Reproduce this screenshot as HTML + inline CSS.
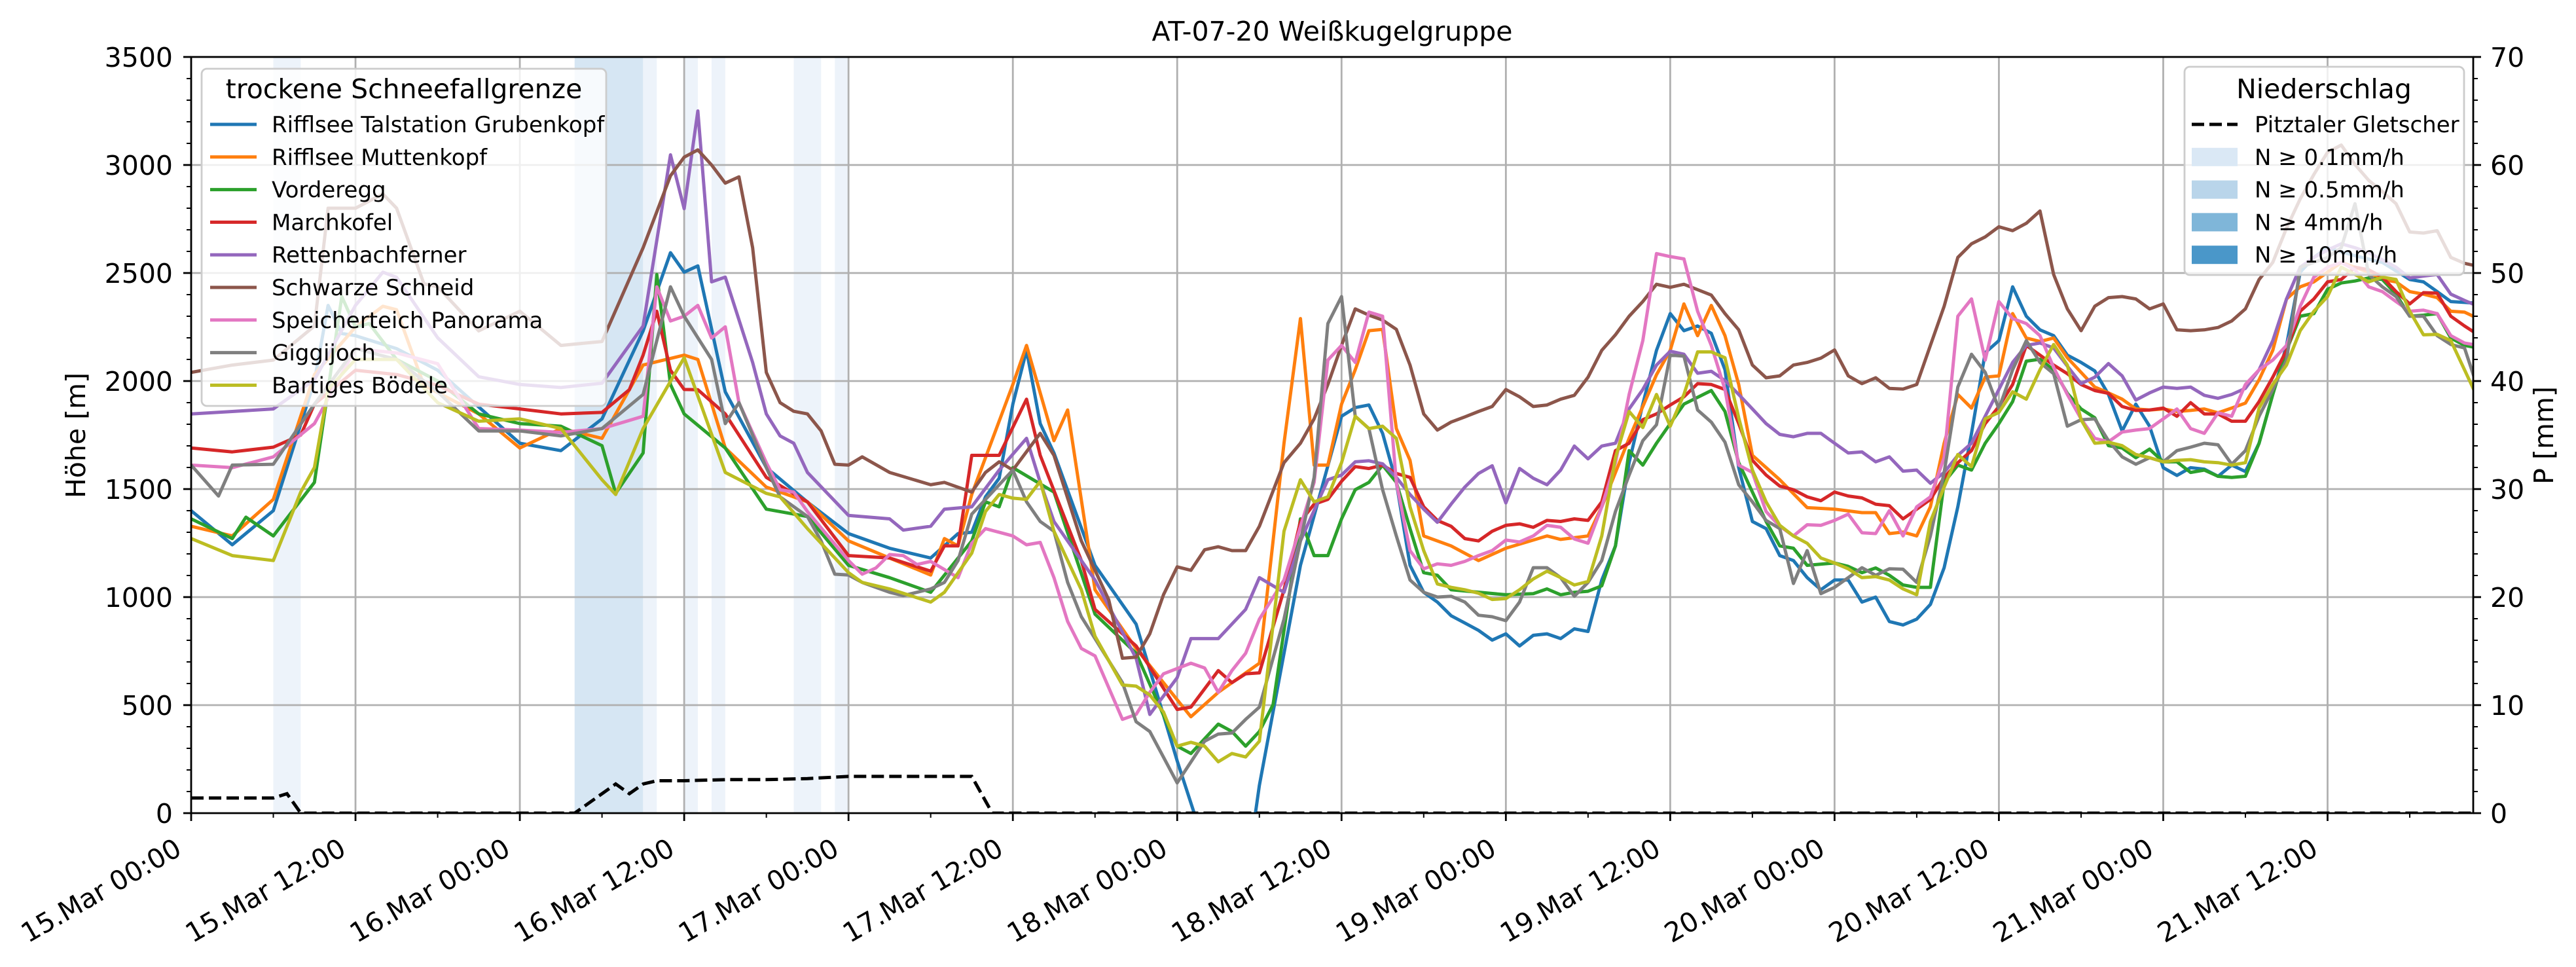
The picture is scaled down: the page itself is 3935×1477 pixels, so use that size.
<!DOCTYPE html>
<html><head><meta charset="utf-8"><style>
html,body{margin:0;padding:0;background:#fff;}
svg{display:block;font-family:"DejaVu Sans","Liberation Sans",sans-serif;}
</style></head>
<body>
<svg id="chart" xmlns="http://www.w3.org/2000/svg" width="3935" height="1477" viewBox="0 0 3935 1477">
<defs><clipPath id="plotclip"><rect x="292" y="87" width="3486" height="1155"/></clipPath></defs>
<rect x="0" y="0" width="3935" height="1477" fill="#fff"/>
<g id="bands"></g><g id="grid"></g>
<g id="lines" clip-path="url(#plotclip)"></g>
<g id="axes"></g>
<text x="2035" y="62" font-size="41" text-anchor="middle">AT-07-20 Weißkugelgruppe</text>
<text x="0" y="0" font-size="41" text-anchor="middle" transform="translate(130,665) rotate(-90)">Höhe [m]</text>
<text x="0" y="0" font-size="41" text-anchor="middle" transform="translate(3900,665) rotate(-90)">P [mm]</text>
<g id="legends"></g>
</svg>
<script>
const xTickLabels = ["15.Mar 00:00","15.Mar 12:00","16.Mar 00:00","16.Mar 12:00","17.Mar 00:00","17.Mar 12:00","18.Mar 00:00","18.Mar 12:00","19.Mar 00:00","19.Mar 12:00","20.Mar 00:00","20.Mar 12:00","21.Mar 00:00","21.Mar 12:00"];
const yTicks = [0,500,1000,1500,2000,2500,3000,3500];
const y2Ticks = [0,10,20,30,40,50,60,70];
const seriesNames = ["Rifflsee Talstation Grubenkopf","Rifflsee Muttenkopf","Vorderegg","Marchkofel","Rettenbachferner","Schwarze Schneid","Speicherteich Panorama","Giggijoch","Bartiges Bödele"];
const seriesColors = ["#1f77b4","#ff7f0e","#2ca02c","#d62728","#9467bd","#8c564b","#e377c2","#7f7f7f","#bcbd22"];
const precipBands = [[6,8,0.1],[28,33,0.5],[33,34,0.1],[36,37,0.1],[38,39,0.1],[44,46,0.1],[47,48,0.1]];
const precipPitztal = [[0,1.4],[6,1.4],[7,1.8],[8,0],[28,0],[30,1.8],[31,2.7],[32,1.8],[33,2.7],[34,3.0],[36,3.0],[39,3.1],[42,3.1],[45,3.2],[48,3.4],[56,3.4],[57,3.4],[58.5,0],[168,0]];
const sRifflseeTal = [[0,1400],[3,1242],[6,1400],[9,2000],[10,2350],[11,2220],[12,2210],[15,2150],[18,2050],[21,1880],[24,1712],[27,1678],[30,1825],[33,2232],[35,2594],[36,2504],[37,2533],[39,1950],[42,1600],[45,1440],[48,1294],[51,1226],[54,1181],[56,1294],[57,1300],[58,1464],[59,1550],[60,1893],[61,2142],[62,1803],[63,1667],[66,1147],[69,875],[72,242],[73.5,-50],[77.6,-50],[78,129],[81,1147],[84,1837],[85,1877],[86,1889],[87,1758],[88,1531],[89,1147],[90,1022],[91,977],[92,914],[93,880],[94,846],[95,801],[96,830],[97,774],[98,823],[99,830],[100,808],[101,853],[102,841],[103,1079],[104,1237],[105,1622],[106,1893],[107,2142],[108,2312],[109,2233],[110,2255],[111,2221],[112,2052],[113,1599],[114,1350],[115,1317],[116,1192],[117,1169],[118,1090],[119,1034],[120,1079],[121,1079],[122,977],[123,1000],[124,887],[125,871],[126,898],[127,966],[128,1136],[129,1418],[130,1758],[131,2131],[132,2187],[133,2436],[134,2300],[135,2237],[136,2210],[137,2120],[138,2086],[139,2047],[140,1938],[141,1769],[142,1893],[143,1791],[144,1599],[145,1563],[146,1599],[147,1592],[148,1559],[149,1611],[150,1581],[151,1712],[152,1938],[153,2165],[154,2504],[155,2572],[156,2617],[158,2580],[160,2549],[162,2470],[163,2459],[164,2414],[165,2368],[166,2364],[167,2360]];
const sMuttenkopf = [[0,1328],[3,1283],[6,1452],[9,2030],[12,2250],[14,2346],[15,2330],[17,1980],[21,1848],[24,1690],[27,1780],[30,1735],[33,2074],[36,2120],[37,2100],[39,1690],[42,1509],[45,1441],[48,1260],[51,1181],[54,1102],[55,1271],[56,1237],[57,1475],[60,1984],[61,2165],[63,1724],[64,1866],[66,1034],[69,762],[72,525],[73,446],[75,559],[78,694],[79.8,1712],[81,2289],[82,1611],[83,1611],[84,1893],[85,2052],[86,2233],[87,2239],[88,1780],[89,1633],[90,1283],[92,1237],[94,1169],[96,1226],[99,1283],[100,1267],[102,1283],[103,1418],[105,1735],[107,2029],[108,2142],[109,2357],[110,2210],[111,2350],[112,2210],[113,1984],[114,1656],[116,1543],[118,1414],[120,1407],[122,1391],[123,1391],[124,1294],[125,1301],[126,1283],[127,1418],[128,1712],[129,1938],[130,1875],[131,2018],[132,2024],[133,2312],[134,2199],[135,2183],[136,2199],[137,2108],[138,2040],[139,1972],[140,1945],[141,1916],[142,1871],[143,1866],[144,1871],[145,1859],[146,1864],[147,1871],[148,1853],[149,1875],[150,1898],[151,2006],[152,2142],[153,2380],[154,2436],[155,2459],[156,2504],[157,2549],[158,2527],[159,2504],[160,2470],[161,2459],[162,2414],[163,2402],[164,2386],[165,2323],[166,2319],[167,2289]];
const sVorderegg = [[0,1362],[3,1271],[4,1370],[6,1283],[9,1531],[11,2391],[12,2250],[13,2266],[15,2100],[18,2000],[21,1848],[24,1803],[27,1791],[30,1701],[31,1480],[33,1667],[34,2493],[35,1984],[36,1848],[39,1690],[42,1407],[45,1373],[48,1147],[51,1090],[54,1022],[57,1260],[58,1441],[59,1418],[60,1599],[63,1486],[66,921],[69,740],[72,310],[73,276],[75,412],[76,378],[77,310],[78,378],[79,502],[81,1362],[82,1192],[83,1192],[84,1362],[85,1497],[86,1531],[87,1611],[88,1531],[89,1317],[90,1113],[91,1101],[92,1034],[96,1011],[98,1016],[99,1038],[100,1011],[101,1022],[102,1027],[103,1052],[104,1237],[105,1678],[106,1611],[107,1712],[108,1803],[109,1893],[111,1956],[112,1859],[113,1622],[114,1486],[115,1350],[116,1237],[117,1226],[118,1147],[120,1158],[121,1142],[122,1113],[123,1135],[124,1101],[125,1056],[126,1045],[127,1045],[128,1531],[129,1611],[130,1588],[131,1712],[132,1803],[133,1905],[134,2092],[135,2101],[136,2052],[137,1943],[138,1871],[139,1830],[140,1701],[141,1690],[142,1645],[143,1685],[144,1626],[145,1626],[146,1577],[147,1588],[148,1559],[149,1554],[150,1559],[151,1712],[152,1938],[153,2142],[154,2300],[155,2312],[156,2425],[157,2454],[158,2463],[159,2477],[160,2470],[161,2402],[162,2300],[163,2305],[164,2312],[165,2199],[166,2165],[167,2153]];
const sMarchkofel = [[0,1690],[3,1672],[6,1694],[8,1750],[9,1893],[12,2050],[15,2030],[18,1980],[21,1893],[24,1871],[27,1848],[30,1855],[32,1960],[33,2120],[34,2323],[35,2050],[36,1961],[37,1960],[39,1848],[42,1554],[45,1441],[48,1192],[51,1181],[54,1120],[55,1237],[56,1237],[57,1656],[59,1656],[61,1916],[62,1656],[65,1169],[66,943],[69,774],[72,480],[73,491],[75,660],[76,604],[77,645],[78,649],[79.8,1034],[81,1350],[82,1430],[83,1452],[84,1536],[85,1604],[86,1595],[87,1611],[88,1572],[89,1554],[90,1418],[91,1355],[92,1328],[93,1271],[94,1260],[95,1305],[96,1332],[97,1339],[98,1323],[99,1355],[100,1350],[101,1362],[102,1355],[103,1441],[104,1678],[105,1712],[106,1821],[107,1848],[108,1889],[109,1927],[110,1988],[111,1984],[112,1961],[113,1803],[114,1633],[115,1565],[116,1514],[117,1497],[118,1464],[119,1446],[120,1486],[121,1468],[122,1459],[123,1430],[124,1423],[125,1362],[126,1407],[127,1452],[128,1554],[129,1622],[130,1678],[131,1803],[132,1882],[133,1984],[134,2165],[135,2120],[136,2074],[137,2034],[138,1984],[139,1956],[140,1943],[141,1882],[142,1864],[143,1866],[144,1875],[145,1837],[146,1900],[147,1848],[148,1848],[149,1814],[150,1814],[151,1905],[152,2018],[153,2142],[154,2323],[155,2380],[156,2459],[157,2470],[158,2527],[159,2515],[160,2481],[161,2414],[162,2357],[163,2409],[164,2407],[165,2300],[166,2255],[167,2214]];
const sRettenbach = [[0,1848],[3,1859],[6,1871],[9,2006],[12,2350],[14,2504],[15,2480],[18,2200],[21,2020],[24,1984],[27,1970],[30,1990],[33,2255],[35,3047],[36,2798],[37,3250],[38,2459],[39,2481],[41,2086],[42,1848],[43,1746],[44,1712],[45,1577],[48,1378],[51,1362],[52,1310],[54,1328],[55,1407],[57,1418],[59,1588],[61,1735],[62,1531],[63,1350],[66,1079],[69,717],[70,457],[72,627],[73,808],[75,808],[77,943],[78,1090],[79.8,1022],[81,1260],[83,1543],[84,1565],[85,1626],[86,1631],[87,1617],[88,1554],[89,1475],[90,1407],[91,1346],[92,1430],[93,1509],[94,1572],[95,1608],[96,1436],[97,1595],[98,1550],[99,1520],[100,1588],[101,1699],[102,1640],[103,1699],[104,1712],[105,1871],[106,1961],[107,2074],[108,2138],[109,2124],[110,2036],[111,2045],[112,2002],[113,1938],[114,1871],[115,1803],[116,1753],[117,1742],[118,1758],[119,1758],[120,1712],[121,1667],[122,1672],[123,1626],[124,1649],[125,1583],[126,1588],[127,1527],[128,1577],[129,1656],[130,1712],[131,1837],[132,1961],[133,2086],[134,2165],[135,2176],[136,2153],[137,2069],[138,1988],[139,2018],[140,2081],[141,2024],[142,1912],[143,1945],[144,1972],[145,1966],[146,1972],[147,1934],[148,1920],[149,1938],[150,1966],[151,2052],[152,2187],[153,2380],[154,2527],[155,2572],[156,2606],[157,2635],[158,2617],[159,2594],[160,2561],[161,2527],[162,2477],[163,2486],[164,2493],[165,2402],[166,2373],[167,2346]];
const sSchwarzeSchneid = [[0,2040],[3,2074],[6,2097],[9,2255],[10,2800],[12,2800],[14,2866],[15,2800],[17,2450],[18,2436],[21,2232],[24,2323],[27,2165],[30,2183],[33,2617],[35,2950],[36,3036],[37,3070],[38,3000],[39,2916],[40,2945],[41,2617],[42,2040],[43,1900],[44,1860],[45,1848],[46,1769],[47,1615],[48,1611],[49,1649],[51,1577],[54,1520],[55,1531],[57,1486],[58,1577],[59,1626],[60,1588],[62,1758],[63,1656],[65,1260],[66,1124],[67,988],[68,717],[69,722],[70,830],[71,1011],[72,1140],[73,1124],[74,1219],[75,1233],[76,1215],[77,1215],[78,1328],[79.8,1622],[81,1712],[82,1825],[83,1984],[84,2165],[85,2334],[86,2305],[87,2282],[88,2239],[89,2074],[90,1848],[91,1773],[92,1810],[93,1834],[94,1859],[95,1882],[96,1961],[97,1927],[98,1882],[99,1889],[100,1916],[101,1934],[102,2018],[103,2142],[104,2214],[105,2300],[106,2368],[107,2448],[108,2434],[109,2448],[110,2423],[111,2398],[112,2312],[113,2237],[114,2074],[115,2015],[116,2024],[117,2074],[118,2086],[119,2106],[120,2144],[121,2024],[122,1988],[123,2015],[124,1966],[125,1963],[126,1984],[127,2165],[128,2346],[129,2572],[130,2635],[131,2667],[132,2714],[133,2696],[134,2730],[135,2787],[136,2493],[137,2334],[138,2233],[139,2346],[140,2386],[141,2391],[142,2380],[143,2334],[144,2357],[145,2237],[146,2233],[147,2237],[148,2248],[149,2278],[150,2334],[151,2470],[152,2549],[153,2708],[154,2843],[155,2956],[156,3059],[157,3092],[158,3002],[159,2929],[160,2877],[161,2821],[162,2690],[163,2685],[164,2696],[165,2572],[166,2545],[167,2531]];
const sSpeicherteich = [[0,1611],[3,1599],[6,1649],[9,1803],[12,2150],[15,2130],[18,2080],[21,1780],[24,1773],[27,1762],[30,1780],[33,1837],[34,2436],[35,2278],[36,2300],[37,2350],[38,2199],[39,2251],[40,1900],[42,1622],[43,1497],[44,1486],[45,1396],[48,1169],[49,1106],[50,1135],[51,1197],[52,1192],[53,1151],[54,1165],[56,1090],[57,1249],[58,1317],[60,1283],[61,1242],[62,1253],[63,1090],[64,887],[65,762],[66,728],[68,434],[69,457],[70,559],[71,645],[73,694],[74,672],[75,559],[76,660],[77,740],[78,898],[79.8,1079],[82,1531],[83,2097],[84,2165],[85,2086],[86,2319],[87,2300],[88,1531],[89,1215],[90,1131],[91,1154],[92,1147],[93,1165],[94,1192],[95,1215],[96,1264],[97,1255],[98,1283],[99,1332],[100,1323],[101,1269],[102,1249],[103,1418],[104,1622],[105,1938],[106,2187],[107,2590],[108,2576],[109,2565],[110,2323],[111,2165],[112,1961],[113,1611],[114,1577],[115,1396],[116,1328],[117,1283],[118,1335],[119,1332],[120,1355],[121,1384],[122,1298],[123,1294],[124,1400],[125,1283],[126,1418],[127,1464],[128,1645],[129,2300],[130,2380],[131,2097],[132,2368],[133,2289],[134,2266],[135,2210],[136,2063],[137,1938],[138,1825],[139,1735],[140,1719],[141,1764],[142,1773],[143,1780],[144,1825],[145,1871],[146,1780],[147,1758],[148,1853],[149,1837],[150,1984],[151,2052],[152,2097],[153,2165],[154,2346],[155,2481],[156,2527],[157,2549],[158,2515],[159,2436],[160,2414],[161,2368],[162,2323],[163,2328],[164,2312],[165,2210],[166,2176],[167,2165]];
const sGiggijoch = [[0,1611],[2,1468],[3,1611],[6,1615],[9,1893],[12,2150],[15,2100],[18,1950],[21,1769],[24,1769],[27,1746],[30,1780],[33,1938],[35,2436],[36,2300],[38,2100],[39,1803],[40,1900],[42,1599],[43,1464],[45,1373],[46,1260],[47,1106],[48,1102],[49,1068],[51,1022],[52,1007],[54,1038],[55,1068],[56,1169],[57,1384],[59,1520],[60,1588],[61,1441],[62,1350],[63,1305],[64,1068],[65,909],[66,808],[68,604],[69,423],[70,378],[72,140],[74,333],[75,366],[76,371],[77,434],[78,491],[79.8,898],[81,1260],[82,1554],[83,2266],[84,2391],[85,1837],[86,1780],[87,1497],[88,1283],[89,1079],[90,1022],[91,1000],[92,1004],[93,977],[94,916],[95,909],[96,891],[97,977],[98,1136],[99,1136],[100,1090],[101,1004],[102,1068],[103,1169],[104,1396],[105,1565],[106,1724],[107,1798],[108,2120],[109,2115],[110,1866],[111,1810],[112,1717],[113,1520],[114,1441],[115,1355],[116,1317],[117,1063],[118,1215],[119,1016],[120,1045],[121,1090],[122,1136],[123,1101],[124,1131],[125,1129],[126,1068],[127,1283],[128,1577],[129,1972],[130,2124],[131,2040],[132,1871],[133,2052],[134,2187],[135,2086],[136,2034],[137,1791],[138,1821],[139,1825],[140,1724],[141,1649],[142,1615],[143,1645],[144,1626],[145,1678],[146,1694],[147,1712],[148,1705],[149,1615],[150,1678],[151,1837],[152,1961],[153,2097],[154,2527],[155,2549],[156,2572],[157,2617],[158,2821],[159,2493],[160,2436],[161,2391],[162,2300],[163,2300],[164,2210],[165,2169],[166,2153],[167,1961]];
const sBartiges = [[0,1271],[3,1192],[6,1169],[8,1486],[9,1600],[10,1961],[12,2100],[15,2100],[18,1900],[21,1814],[24,1825],[27,1780],[30,1543],[31,1475],[33,1780],[36,2108],[39,1577],[42,1480],[43,1464],[45,1317],[48,1113],[49,1068],[51,1038],[54,977],[55,1022],[57,1203],[58,1396],[59,1475],[60,1458],[61,1452],[62,1536],[63,1305],[65,1034],[66,819],[68,593],[69,588],[70,547],[71,468],[72,310],[73,328],[74,310],[75,238],[76,276],[77,260],[78,333],[79.8,1305],[81,1543],[82,1441],[83,1464],[84,1622],[85,1837],[86,1780],[87,1791],[88,1735],[89,1418],[90,1215],[91,1061],[92,1045],[93,1034],[94,1018],[95,989],[96,993],[97,1034],[98,1084],[99,1120],[100,1090],[101,1056],[102,1072],[103,1283],[104,1645],[105,1859],[106,1785],[107,1938],[108,1791],[109,1938],[110,2135],[111,2135],[112,2108],[113,1830],[114,1588],[115,1441],[116,1332],[117,1283],[118,1249],[119,1181],[120,1158],[121,1131],[122,1090],[123,1095],[124,1079],[125,1038],[126,1011],[127,1350],[128,1509],[129,1660],[130,1604],[131,1825],[132,1855],[133,1950],[134,1916],[135,2052],[136,2169],[137,2074],[138,1821],[139,1712],[140,1717],[141,1701],[142,1660],[143,1645],[144,1626],[145,1633],[146,1636],[147,1626],[148,1622],[149,1611],[150,1622],[151,1875],[152,1984],[153,2074],[154,2233],[155,2323],[156,2391],[157,2527],[158,2493],[159,2459],[160,2481],[161,2470],[162,2323],[163,2214],[164,2216],[165,2187],[166,2052],[167,1916]];
const allSeries = [sRifflseeTal,sMuttenkopf,sVorderegg,sMarchkofel,sRettenbach,sSchwarzeSchneid,sSpeicherteich,sGiggijoch,sBartiges];

const NS = "http://www.w3.org/2000/svg";
const L = 292, R = 3778, T = 87, B = 1242;
const xMaxH = (R - L) / 20.92;
function X(h){ return L + (h / xMaxH) * (R - L); }
function Y(v){ return B - (v / 3500) * (B - T); }
function Y2(mm){ return B - (mm / 70) * (B - T); }
function mk(tag, attrs, parent){ const e = document.createElementNS(NS, tag); for (const k in attrs) e.setAttribute(k, attrs[k]); parent.appendChild(e); return e; }

const gB = document.getElementById('bands');
const bandFill = {0.1:"#edf3fa", 0.5:"#d6e6f3", 4:"#7fb6d9", 10:"#4a97c9"};
precipBands.forEach((b,i)=>{
  const r = mk('rect',{x:X(b[0]),y:T,width:X(b[1])-X(b[0]),height:B-T,fill:bandFill[b[2]]},gB);
  
  
});

const gG = document.getElementById('grid');
for (let i=1;i<xTickLabels.length;i++){
  const l = mk('line',{x1:X(i*12),x2:X(i*12),y1:T,y2:B,stroke:"#b0b0b0","stroke-width":2.8},gG);
  
  
}
yTicks.forEach(v=>{
  if (v===0||v===3500) return;
  const l = mk('line',{x1:L,x2:R,y1:Y(v),y2:Y(v),stroke:"#b0b0b0","stroke-width":2.8},gG);
  
  
});

const gL = document.getElementById('lines');
allSeries.forEach((s,i)=>{
  const d = s.map((p,j)=>(j?'L':'M')+X(p[0]).toFixed(1)+','+Y(p[1]).toFixed(1)).join('');
  const p = mk('path',{d:d,fill:'none',stroke:seriesColors[i],'stroke-width':5,'stroke-linejoin':'round'},gL);
  
  
});
const dP = precipPitztal.map((p,j)=>(j?'L':'M')+X(p[0]).toFixed(1)+','+Y2(p[1]).toFixed(1)).join('');
const pl = mk('path',{d:dP,fill:'none',stroke:'#000','stroke-width':5,'stroke-dasharray':'19,8'},gL);



const gA = document.getElementById('axes');
const frame = mk('rect',{x:L,y:T,width:R-L,height:B-T,fill:'none',stroke:'#000','stroke-width':2.8},gA);


yTicks.forEach(v=>{
  mk('line',{x1:L-12,x2:L,y1:Y(v),y2:Y(v),stroke:'#000','stroke-width':2.8},gA);
  const t = mk('text',{x:L-28,y:Y(v)+15,'font-size':41,'text-anchor':'end'},gA);
  t.textContent = v;
  
  
});
for (let v=0; v<=3500; v+=100){ if (v%500) mk('line',{x1:L-7,x2:L,y1:Y(v),y2:Y(v),stroke:'#000','stroke-width':2},gA); }
y2Ticks.forEach(v=>{
  mk('line',{x1:R,x2:R+12,y1:Y2(v),y2:Y2(v),stroke:'#000','stroke-width':2.8},gA);
  const t = mk('text',{x:R+26,y:Y2(v)+15,'font-size':41,'text-anchor':'start'},gA);
  t.textContent = v;
  
  
});
for (let v=0; v<=70; v+=2){ if (v%10) mk('line',{x1:R,x2:R+7,y1:Y2(v),y2:Y2(v),stroke:'#000','stroke-width':2},gA); }
xTickLabels.forEach((lab,i)=>{
  const x = X(i*12);
  mk('line',{x1:x,x2:x,y1:B,y2:B+12,stroke:'#000','stroke-width':2.8},gA);
  const ax = x-12, ay = B+62;
  const t = mk('text',{x:ax,y:ay,'font-size':41,'text-anchor':'end',transform:'rotate(-30 '+ax+' '+ay+')'},gA);
  t.textContent = lab;
  
  
});
for (let h=6; h<xMaxH; h+=12){ mk('line',{x1:X(h),x2:X(h),y1:B,y2:B+7,stroke:'#000','stroke-width':2},gA); }

const gLeg = document.getElementById('legends');
const leg1 = mk('g',{},gLeg);


mk('rect',{x:308,y:105,width:618,height:515,rx:8,fill:'#fff','fill-opacity':0.8,stroke:'#cccccc','stroke-width':2.8},leg1);
const lt1 = mk('text',{x:617,y:150,'font-size':41,'text-anchor':'middle'},leg1);
lt1.textContent = 'trockene Schneefallgrenze';
seriesNames.forEach((n,i)=>{
  const cy = 190 + i*49.8;
  const e = mk('g',{},leg1);
  
  
  mk('line',{x1:321,x2:392,y1:cy,y2:cy,stroke:seriesColors[i],'stroke-width':5},e);
  const t = mk('text',{x:415,y:cy+12,'font-size':34},e);
  t.textContent = n;
});
const leg2 = mk('g',{},gLeg);


mk('rect',{x:3337,y:102,width:427,height:318,rx:8,fill:'#fff','fill-opacity':0.8,stroke:'#cccccc','stroke-width':2.8},leg2);
const lt2 = mk('text',{x:3550,y:150,'font-size':41,'text-anchor':'middle'},leg2);
lt2.textContent = 'Niederschlag';
const precipLegendLabels = ['Pitztaler Gletscher','N ≥ 0.1mm/h','N ≥ 0.5mm/h','N ≥ 4mm/h','N ≥ 10mm/h'];
const patchColors = ['#dae8f5','#b9d5ea','#7fb6d9','#4a97c9'];
precipLegendLabels.forEach((n,i)=>{
  const cy = 190 + i*49.8;
  const e = mk('g',{},leg2);
  
  
  if (i===0) mk('line',{x1:3348,x2:3418,y1:cy,y2:cy,stroke:'#000','stroke-width':5,'stroke-dasharray':'19,8'},e);
  else mk('rect',{x:3348,y:cy-14,width:70,height:28,fill:patchColors[i-1]},e);
  const t = mk('text',{x:3444,y:cy+12,'font-size':34},e);
  t.textContent = n;
});
</script>
</body></html>
